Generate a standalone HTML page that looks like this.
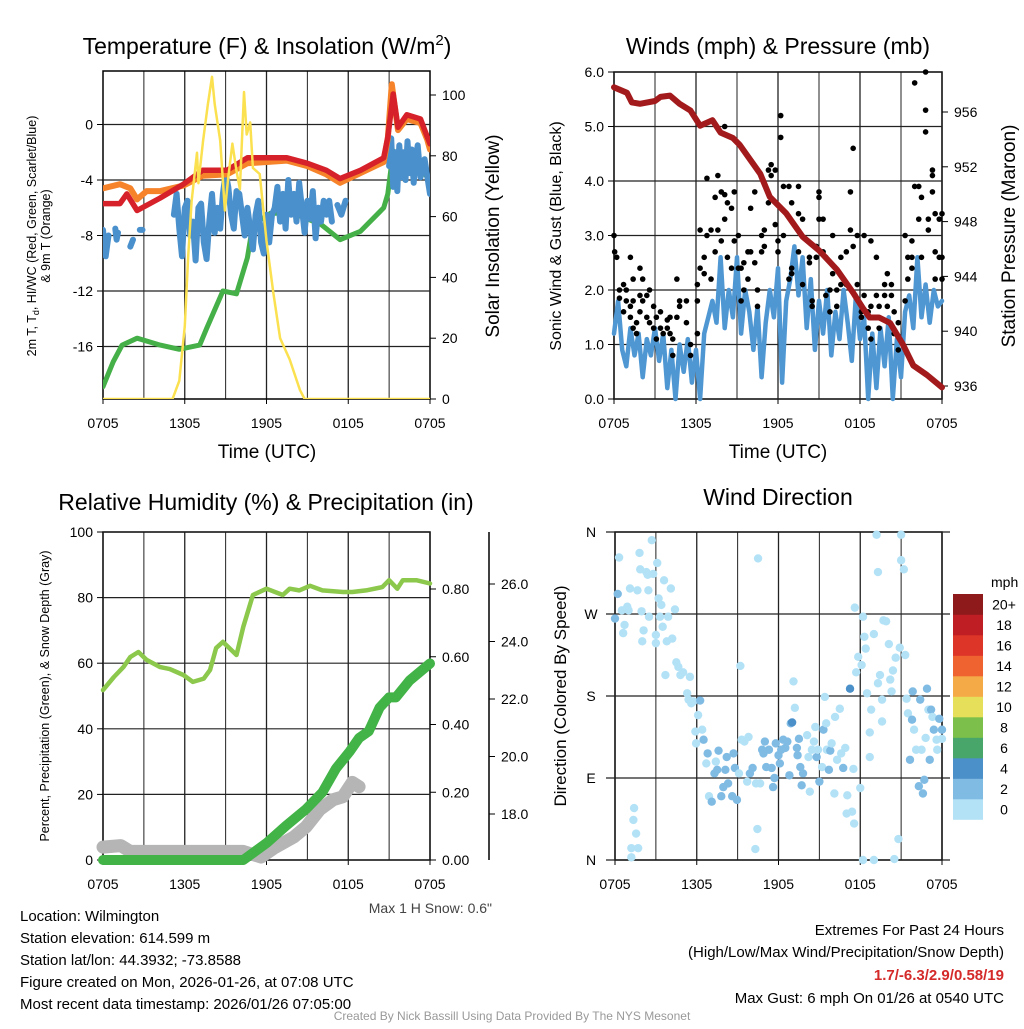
<!DOCTYPE html>
<html><head><meta charset="utf-8"><style>
html,body{margin:0;padding:0;background:#fff;}
svg text{font-family:"Liberation Sans",sans-serif;fill:#000;}
</style></head><body>
<svg id="chart" width="1024" height="1024" viewBox="0 0 1024 1024" xmlns="http://www.w3.org/2000/svg">
<rect x="0" y="0" width="1024" height="1024" fill="#fff"/>
<text x="267" y="54" font-size="23" text-anchor="middle">Temperature (F) &amp; Insolation (W/m<tspan dy="-9" font-size="15">2</tspan><tspan dy="9">)</tspan></text>
<text x="778" y="54" font-size="23" text-anchor="middle">Winds (mph) &amp; Pressure (mb)</text>
<text x="266" y="510" font-size="23" text-anchor="middle">Relative Humidity (%) &amp; Precipitation (in)</text>
<text x="778" y="505" font-size="23" text-anchor="middle">Wind Direction</text>
<text x="267" y="458" font-size="19" text-anchor="middle">Time (UTC)</text>
<text x="778" y="458" font-size="19" text-anchor="middle">Time (UTC)</text>
<text transform="translate(36,236) rotate(-90)" font-size="12.5" text-anchor="middle">2m T, T<tspan dy="3" font-size="9">d</tspan><tspan dy="-3">, HI/WC (Red, Green, Scarlet/Blue)</tspan></text>
<text transform="translate(50,236) rotate(-90)" font-size="12.5" text-anchor="middle">&amp; 9m T (Orange)</text>
<text transform="translate(499,236) rotate(-90)" font-size="19" text-anchor="middle">Solar Insolation (Yellow)</text>
<text transform="translate(561,236) rotate(-90)" font-size="16" text-anchor="middle">Sonic Wind &amp; Gust (Blue, Black)</text>
<text transform="translate(1015,236) rotate(-90)" font-size="19" text-anchor="middle">Station Pressure (Maroon)</text>
<text transform="translate(49,696) rotate(-90)" font-size="12.5" text-anchor="middle">Percent, Precipitation (Green), &amp; Snow Depth (Gray)</text>
<text transform="translate(566,696) rotate(-90)" font-size="17" text-anchor="middle">Direction (Colored By Speed)</text>
<text x="492" y="913" font-size="14" text-anchor="end" style="fill:#444">Max 1 H Snow: 0.6"</text>
<g font-size="15">
<text x="20" y="921">Location: Wilmington</text>
<text x="20" y="943">Station elevation: 614.599 m</text>
<text x="20" y="965">Station lat/lon: 44.3932; -73.8588</text>
<text x="20" y="987">Figure created on Mon, 2026-01-26, at 07:08 UTC</text>
<text x="20" y="1009">Most recent data timestamp: 2026/01/26 07:05:00</text>
</g>
<g font-size="15" text-anchor="end">
<text x="1004" y="935">Extremes For Past 24 Hours</text>
<text x="1004" y="957">(High/Low/Max Wind/Precipitation/Snow Depth)</text>
<text x="1004" y="980" font-weight="bold" style="fill:#d42a2a">1.7/-6.3/2.9/0.58/19</text>
<text x="1004" y="1003">Max Gust: 6 mph On 01/26 at 0540 UTC</text>
</g>
<text x="512" y="1020" font-size="12" text-anchor="middle" style="fill:#999">Created By Nick Bassill Using Data Provided By The NYS Mesonet</text>
</svg>
<script>
// ---------- data ----------
const timeTicks = [0, 6, 12, 18, 24];
const timeLabels = ["0705", "1305", "1905", "0105", "0705"];
// Panel 1: temperatures (F) and solar (W/m2)
const redT = [0,1.25,1.75,2.5,4.2,5.9,7.3,9.1,10.6,12.0,13.5,15.0,16.4,17.4,18.9,20.6,20.9,21.3,21.65,22.3,23.3,23.8,24];
const redV = [-5.7,-5.7,-5.0,-6.2,-5.3,-4.3,-3.3,-3.3,-2.4,-2.4,-2.4,-2.8,-3.3,-3.9,-3.3,-2.4,-0.9,2.2,-0.2,0.7,0.4,-0.9,-1.4];
const orangeT = [0,1.25,2.0,2.5,3.2,4.2,5.9,7.3,9.1,10.6,12.0,13.5,15.0,16.4,17.4,18.9,20.6,20.9,21.2,21.65,22.3,23.3,23.8,24];
const orangeV = [-4.6,-4.3,-4.6,-5.4,-4.8,-4.8,-4.4,-3.7,-3.6,-2.8,-2.7,-2.6,-3.0,-3.6,-4.2,-3.5,-2.7,-1.0,2.9,-0.4,0.4,0.1,-1.1,-1.8];
const greenT = [0,0.75,1.4,2.5,4.2,5.6,7.1,7.6,8.8,9.8,10.6,11.0,12.3,14.0,16.0,17.4,18.9,20.6,20.9,21.3,21.65,23.0,23.8,24];
const greenV = [-18.9,-17.1,-15.9,-15.4,-15.9,-16.2,-15.9,-14.7,-12.0,-12.2,-9.6,-7.2,-6.4,-6.4,-7.2,-8.3,-7.7,-6.0,-5.0,-1.9,-3.8,-2.8,-3.8,-4.9];
const blueT = [0,0.2,0.4,null,0.9,1.0,1.1,null,2.0,2.2,null,2.7,2.9,null,
 5.2,5.4,5.6,5.8,6.0,6.2,6.4,6.6,6.8,7.0,7.2,7.4,7.6,7.8,8.0,8.2,8.4,8.6,8.8,9.0,9.2,9.4,9.6,9.8,10.0,10.2,10.4,10.6,10.8,11.0,11.2,11.4,11.6,11.8,12.0,12.2,12.4,
 12.6,12.8,13.0,13.2,13.4,13.6,13.8,14.0,14.2,14.4,14.6,14.8,15.0,15.2,15.4,15.6,15.8,16.0,16.2,16.4,16.6,16.8,null,
 17.2,17.5,17.8,null,
 21.0,21.15,21.3,21.45,21.6,21.75,21.9,22.05,22.2,22.35,22.5,22.65,22.8,22.95,23.1,23.3,23.6,24];
const blueV = [-7.6,-9.5,-8.0,null,-7.5,-8.3,-7.8,null,-8.8,-8.3,null,-7.6,-7.6,null,
 -6.5,-5,-7.5,-9.5,-6,-5.5,-8,-7,-9.8,-6,-5.7,-8.5,-9.7,-7,-5,-7.8,-6,-7.5,-5,-3.5,-4.5,-6.5,-7.5,-4.8,-5,-6.5,-8,-6,-7.5,-9,-6.5,-5.5,-8.5,-9.3,-6.5,-8.5,-6.5,
 -6,-4.5,-7,-5,-7.5,-4,-6.5,-5,-7,-4.2,-6,-7.8,-5.5,-6.8,-4.8,-8.2,-6,-7,-5.5,-6.5,-5.5,-7,null,
 -5.8,-6.5,-5.5,null,
 -3,-1,-4.5,-2,-4.8,-1.5,-3.8,-2,-4,-1.2,-3.5,-1.8,-4.2,-2.5,-1.5,-3.8,-2.5,-5];
const solarT = [0,5.1,5.6,6.0,6.25,6.5,6.9,7.0,7.35,7.7,8.0,8.2,8.6,8.95,9.2,9.5,9.8,10.05,10.35,10.55,10.8,11.0,11.5,12.0,12.5,13.0,13.7,14.45,14.8,24];
const solarV = [0,0,6,24,47,65,81,71,85,97,106,97,85,62,73,84,75,69,101,87,91,76,74,52,35,20,13,3,0,0];
const tempTicks = [0,-4,-8,-12,-16];
const solarTicks = [0,20,40,60,80,100];
// Panel 2: wind (mph), gusts, pressure (mb)
const windV = [1.2,1.8,0.9,0.6,1.3,0.8,1.2,0.4,1.1,0.8,1.3,0.7,1.2,0.2,0.9,0.0,1.0,0.5,1.1,0.3,0.9,0.0,1.2,1.5,1.8,1.4,2.6,1.3,2.0,1.5,2.6,1.2,2.0,1.6,0.9,1.7,0.4,1.4,2.0,1.5,2.4,0.3,1.8,2.2,2.8,1.9,2.6,1.3,2.2,0.9,1.8,1.2,2.0,0.8,1.6,1.1,2.0,1.4,0.7,1.9,1.1,1.5,0.0,1.2,0.2,1.3,0.6,1.5,0.0,1.1,0.4,1.6,1.9,1.3,2.6,1.5,2.1,1.4,2.0,1.7,1.8];
const gustT = [0,0.05,0.2,0.4,0.4,0.7,0.7,0.9,0.9,1.2,1.2,1.2,1.4,1.4,1.4,1.65,1.65,1.9,1.9,1.9,2.1,2.1,2.4,2.4,2.6,2.6,2.9,2.9,3.1,3.1,3.4,3.4,3.6,3.9,3.9,4.1,4.1,4.3,4.3,4.6,4.6,4.8,4.8,5.3,5.3,5.6,5.6,6.1,6.1,6.1,6.3,6.3,6.6,6.6,6.8,6.8,7.1,7.1,7.4,7.4,7.6,7.6,7.85,7.85,8.1,8.1,8.1,8.3,8.3,8.6,8.6,8.8,8.8,9.1,9.1,9.3,9.3,9.5,9.5,9.8,9.8,10.0,10.0,10.3,10.3,10.5,10.5,10.8,10.8,11.0,11.0,11.3,11.3,11.5,11.5,11.8,11.8,12.0,12.0,12.2,12.2,12.4,12.4,12.8,12.8,13.0,13.0,13.0,13.5,13.5,13.5,13.8,13.8,14.3,14.3,14.5,14.5,14.8,14.8,15.0,15.0,15.0,15.3,15.3,15.5,15.5,15.8,15.8,16.0,16.0,16.3,16.3,16.6,16.6,17.0,17.0,17.3,17.3,17.5,17.5,17.8,17.8,18.1,18.1,18.3,18.3,18.6,18.6,18.8,18.8,18.8,19.2,19.2,19.4,19.4,19.8,19.8,20.0,20.0,20.3,20.3,20.5,20.5,20.8,20.8,21.3,21.3,21.5,21.5,21.8,21.8,21.8,22.0,22.0,22.3,22.3,22.5,22.5,22.8,22.8,22.8,23.0,23.0,23.3,23.3,23.3,23.5,23.5,23.5,23.8,23.8,24,24,24];
const gustV = [3.0,2.7,2.6,2.0,1.85,2.1,1.6,2.0,1.8,2.6,1.7,1.5,2.2,1.8,1.3,1.4,1.2,2.4,1.9,1.6,2.2,1.8,1.9,1.5,2.0,1.4,1.7,1.3,1.5,1.1,1.6,1.3,1.2,1.45,1.3,1.5,1.2,1.1,0.8,2.2,1.5,1.8,1.7,1.8,1.4,1.0,0.8,2.1,1.8,1.2,2.4,3.1,2.6,2.3,4.05,3.0,3.1,2.2,3.7,2.7,4.1,3.1,3.8,2.9,5.0,3.75,3.3,3.6,2.6,3.5,2.4,3.8,2.9,3.0,2.4,1.8,2.4,2.5,2.0,2.2,2.7,3.5,2.7,3.8,2.5,2.0,1.7,2.7,3.0,3.1,2.8,4.2,3.6,4.3,4.1,4.2,3.2,2.9,2.7,4.8,5.2,3.9,3.0,3.9,2.2,3.6,2.3,2.4,3.4,3.9,2.7,3.3,2.1,2.6,2.5,1.8,1.7,2.8,2.6,3.7,3.3,3.8,3.3,2.7,2.6,1.9,2.0,1.6,3.0,2.3,1.7,2.0,2.1,2.6,2.7,2.1,3.8,3.1,4.6,2.8,2.1,3.0,1.6,1.5,1.9,3.0,1.6,1.3,1.7,2.9,1.1,1.9,2.6,1.7,1.3,2.1,1.9,1.7,2.3,1.9,2.1,1.6,1.2,1.4,0.9,1.8,3.0,2.2,2.6,2.6,2.4,2.9,3.9,5.8,3.3,3.9,3.7,2.6,4.9,5.3,6.0,3.3,3.1,3.8,4.2,4.1,2.2,2.7,3.4,2.6,3.3,2.6,3.4,2.2];
const presT = [0,0.95,1.3,1.9,3.0,3.4,4.1,4.8,5.6,6.3,7.2,7.8,8.7,9.2,10.7,11.4,12.6,13.8,15.0,16.3,17.5,18.2,18.7,19.4,20.2,21.1,21.9,22.9,24];
const presV = [957.8,957.4,956.7,956.6,956.8,957.1,957.2,956.6,956.1,955.0,955.4,954.5,954.1,953.6,951.5,949.8,948.6,946.9,945.9,944.5,942.8,941.7,941.0,941.0,940.6,939.1,937.5,936.8,935.9];
const windTicks = [0,1,2,3,4,5,6];
const presTicks = [936,940,944,948,952,956];
// Panel 3: RH (%), precip (in), snow depth (in)
const rhT = [0,0.8,1.5,2.0,2.6,3.2,4.2,4.9,5.9,6.6,7.4,7.85,8.3,8.8,9.8,10.3,11.0,12.0,13.2,13.7,14.4,15.2,16.1,17.6,18.3,19.3,20.5,21.0,21.6,22.0,23.0,24];
const rhV = [51.8,55.8,58.8,61.9,63.4,61,58.8,58.2,56.4,54.3,55.3,57.9,64.6,66.5,62.5,71.1,80.8,82.7,80.8,82.7,82.2,83.6,82.2,81.7,81.7,82.2,83.2,85.3,82.7,85.3,85.3,84.3];
const precipT = [0,10.3,12.0,13.4,14.9,16.1,17.1,18.1,18.8,19.5,20.3,21.0,21.5,22.5,24];
const precipV = [0,0,0.05,0.10,0.15,0.20,0.27,0.32,0.36,0.38,0.45,0.48,0.48,0.53,0.58];
const snowT = [0,1.3,2.0,10.3,11.6,12.5,14.0,14.9,15.9,16.9,17.6,18.3,18.8];
const snowV = [16.85,16.9,16.7,16.7,16.5,16.8,17.2,17.55,18.15,18.5,18.6,19.1,18.95];
const rhTicks = [0,20,40,60,80,100];
const precipTicks = [0,0.2,0.4,0.6,0.8];
const snowTicks = [18,20,22,24,26];
// Panel 4: wind direction (deg) with speed (mph)
const dirT = [0.0,0.2,0.3,0.5,0.6,0.7,0.9,1.0,1.1,1.2,1.4,1.35,1.55,1.7,1.2,1.8,1.85,1.65,1.95,2.1,2.0,2.3,2.4,2.45,2.5,2.7,2.8,3.0,3.0,3.1,3.2,3.3,3.4,3.5,3.6,3.7,3.8,3.9,4.1,4.2,4.4,4.5,4.65,4.8,5.0,5.3,5.4,5.5,5.6,5.75,5.9,5.95,6.1,6.25,6.4,6.5,6.7,6.8,6.9,7.1,7.3,7.4,7.5,7.6,7.8,7.95,8.1,8.2,8.3,8.6,8.7,8.8,8.95,9.1,9.2,9.3,9.5,9.7,9.8,9.9,10.1,10.35,10.45,10.5,10.65,10.3,10.8,10.9,11.0,11.1,11.3,11.5,11.6,11.7,11.8,12.0,12.1,12.2,12.35,12.5,12.65,12.8,12.9,13.0,13.1,13.2,13.35,13.4,13.5,13.6,13.7,13.8,14.1,14.2,14.3,14.45,14.6,14.7,14.8,14.9,15.0,15.2,15.3,15.4,15.5,15.55,15.7,15.8,15.9,16.1,16.15,16.3,16.5,16.6,16.75,16.9,17.0,17.05,17.25,17.4,17.5,17.55,17.6,17.7,17.85,18.0,18.1,18.2,18.2,18.3,18.4,18.5,18.7,18.7,18.8,19.0,19.0,19.2,19.3,19.3,19.45,19.6,19.6,19.7,19.9,20.1,20.2,20.3,20.4,20.5,20.6,20.8,20.9,21.0,21.0,21.2,21.3,21.4,21.5,21.65,21.8,21.85,21.95,22.1,22.3,22.4,22.5,22.6,22.7,22.8,22.9,23.0,23.1,23.2,23.3,23.4,23.6,23.65,23.8,24.0,24.0];
const dirDeg = [265,292,332,274,249,258,278,274,298,13,57,44,29,13,3,337,319,296,273,252,240,316,313,296,267,351,314,247,238,326,287,267,280,256,307,203,240,267,298,243,275,217,212,203,206,183,176,201,172,174,141,128,159,175,143,132,106,117,70,64,95,108,99,120,70,80,99,113,84,70,117,101,66,95,213,132,130,86,135,95,101,84,34,331,84,12,121,117,130,102,121,101,80,90,128,115,106,121,132,123,130,93,150,151,196,167,123,115,133,102,82,95,137,113,75,121,130,146,113,121,86,102,143,179,150,121,99,120,128,73,157,110,166,117,101,123,51,71,188,53,100,40,277,206,223,79,214,0,267,245,232,183,113,140,165,248,0,357,316,194,203,152,176,263,262,237,198,185,208,1,222,23,233,357,329,319,225,177,161,110,154,185,143,121,81,176,121,73,88,134,188,165,110,165,157,143,132,121,155,143,133];
const dirSpd = [3,3,1,1,1,1,1,1,1,1,1,1,1,1,1,1,1,1,1,1,1,1,1,1,1,1,1,1,1,1,1,1,1,1,1,1,1,1,1,1,1,1,1,1,1,1,1,1,1,1,1,1,1,3,1,3,1,3,1,3,3,1,3,3,3,3,3,3,3,3,3,3,3,1,1,1,1,1,1,3,3,1,1,1,1,1,3,3,3,3,3,3,3,3,3,3,3,3,3,3,3,3,3,4.5,1,1,3,3,3,3,3,3,1,1,1,1,1,1,3,1,3,1,3,1,1,1,3,3,1,1,1,1,1,1,3,1,1,1,4.5,1,1,1,1,1,1,1,1,1,1,1,1,1,1,1,1,1,1,1,1,1,1,1,1,1,1,1,1,1,1,1,1,1,1,1,1,1,1,1,1,3,3,3,1,1,3,3,1,3,3,1,3,1,3,3,1,3,1,1,3,3,1,3,1];
const dirTicks = [0,90,180,270,360];
const dirLabels = ["N","E","S","W","N"];
const speedBins = ["0","2","4","6","8","10","12","14","16","18","20+"];
const speedColors = ["#b3e2f7","#80bbe4","#4b90c9","#49a66b","#7cc04b","#e6df5a","#f5aa48","#ef6331","#dd3629","#be1e24","#8f1a1b"];

// ---------- helpers ----------
const NS = "http://www.w3.org/2000/svg";
const svg = document.getElementById("chart");
function el(tag, parent) { const e = document.createElementNS(NS, tag); (parent || svg).appendChild(e); return e; }
function lin(d0, d1, r0, r1) { return v => r0 + (v - d0) / (d1 - d0) * (r1 - r0); }
function pathFrom(xs, ys, sx, sy) {
  let d = "", pen = false;
  for (let i = 0; i < xs.length; i++) {
    if (xs[i] === null || ys[i] === null) { pen = false; continue; }
    d += (pen ? "L" : "M") + sx(xs[i]).toFixed(1) + "," + sy(ys[i]).toFixed(1);
    pen = true;
  }
  return d;
}
function line(g, x1, y1, x2, y2, stroke, w) {
  const l = el("line", g);
  l.setAttribute("x1", x1); l.setAttribute("y1", y1); l.setAttribute("x2", x2); l.setAttribute("y2", y2);
  l.setAttribute("stroke", stroke); l.setAttribute("stroke-width", w);
  return l;
}
function txt(g, x, y, s, anchor, size) {
  const t = el("text", g);
  t.setAttribute("x", x); t.setAttribute("y", y); t.setAttribute("text-anchor", anchor); t.setAttribute("font-size", size);
  t.textContent = s; return t;
}
function frame(name, x0, x1, y0, y1, xs) {
  const g = el("g");
  
  
  for (let h = 3; h < 24; h += 3) {
    const gl = line(g, xs(h), y0, xs(h), y1, "#222", h % 6 === 0 ? 1.3 : 1);
    
    
  }
  timeTicks.forEach((t, i) => {
    const tk = line(g, xs(t), y1, xs(t), y1 + 5, "#000", 1);
    
    
    const lb = txt(g, xs(t), y1 + 29, timeLabels[i], "middle", 14);
    
    
  });
  const r = el("rect", g);
  r.setAttribute("x", x0); r.setAttribute("y", y0); r.setAttribute("width", x1 - x0); r.setAttribute("height", y1 - y0);
  r.setAttribute("fill", "none"); r.setAttribute("stroke", "#000"); r.setAttribute("stroke-width", 1.5);
  
  
  return g;
}
function yAxis(g, ticks, labels, sy, x, side, grid, x0, x1, fmt) {
  ticks.forEach((v, i) => {
    const y = sy(v);
    if (grid) {
      const gl = line(g, x0, y, x1, y, "#222", 1.2);
      
      
    }
    const tk = line(g, x, y, x + (side === "left" ? -6 : 6), y, "#000", 1);
    
    
    const s = labels ? labels[i] : fmt(v);
    const lb = txt(g, side === "left" ? x - 10 : x + 12, y + 5, s, side === "left" ? "end" : "start", 14);
    
    
  });
}
function series(g, xs, ys, sx, sy, color, w) {
  const p = el("path", g);
  p.setAttribute("d", pathFrom(xs, ys, sx, sy));
  p.setAttribute("fill", "none"); p.setAttribute("stroke", color); p.setAttribute("stroke-width", w);
  p.setAttribute("stroke-linejoin", "round"); p.setAttribute("stroke-linecap", "round");
  return p;
}

// ---------- Panel 1 ----------
{
  const x0 = 103, x1 = 430, y0 = 71, y1 = 399;
  const sx = lin(0, 24, x0, x1), sy = lin(0, -16, 124.5, 346.5), ss = lin(0, 100, 399, 95);
  const g = frame("temperature", x0, x1, y0, y1, sx);
  yAxis(g, tempTicks, null, sy, x0, "left", true, x0, x1, v => String(v));
  yAxis(g, solarTicks, null, ss, x1, "right", false, 0, 0, v => String(v));
  const sg = el("g"); sg.setAttribute("clip-path", "url(#c1)");
  const cp = el("clipPath"); cp.setAttribute("id", "c1");
  const cr = el("rect", cp); cr.setAttribute("x", x0); cr.setAttribute("y", y0); cr.setAttribute("width", x1 - x0); cr.setAttribute("height", y1 - y0);
  const gr = series(sg, greenT, greenV, sx, sy, "#44b047", 5);
  
  
  const bl = series(sg, blueT, blueV, sx, sy, "#4a90cc", 6);
  
  
  const or = series(sg, orangeT, orangeV, sx, sy, "#f6832a", 6);
  
  
  const rd = series(sg, redT, redV, sx, sy, "#d6212a", 5.5);
  
  
  const so = series(sg, solarT, solarV, sx, ss, "#fbe150", 2.5);
  
  
}
// ---------- Panel 2 ----------
{
  const x0 = 614, x1 = 942, y0 = 72, y1 = 399;
  const sx = lin(0, 24, x0, x1), sw = lin(0, 6, y1, y0), sp = lin(956, 936, 112, 386);
  const g = frame("winds", x0, x1, y0, y1, sx);
  yAxis(g, windTicks, null, sw, x0, "left", true, x0, x1, v => v.toFixed(1));
  yAxis(g, presTicks, null, sp, x1, "right", false, 0, 0, v => String(v));
  const wt = windV.map((v, i) => i * 24 / (windV.length - 1));
  const wl = series(g, wt, windV, sx, sw, "#4f97d3", 4.5);
  
  
  const gg = el("g", g);
  
  
  gustT.forEach((t, i) => {
    const c = el("circle", gg);
    c.setAttribute("cx", sx(t)); c.setAttribute("cy", sw(gustV[i])); c.setAttribute("r", 2.8); c.setAttribute("fill", "#000");
    
    
  });
  const pl = series(g, presT, presV, sx, sp, "#a31a1c", 6);
  
  
}
// ---------- Panel 3 ----------
{
  const x0 = 103, x1 = 430, y0 = 532, y1 = 860;
  const sx = lin(0, 24, x0, x1), sr = lin(0, 100, y1, y0), sp = lin(0, 0.8, 860, 589), sn = lin(18, 26, 814, 584);
  const g = frame("humidity", x0, x1, y0, y1, sx);
  yAxis(g, rhTicks, null, sr, x0, "left", true, x0, x1, v => String(v));
  yAxis(g, precipTicks, null, sp, x1, "right", false, 0, 0, v => v.toFixed(2));
  const ax = line(g, 489, 532, 489, 860, "#000", 1.5);
  
  
  yAxis(g, snowTicks, null, sn, 489, "right", false, 0, 0, v => v.toFixed(1));
  const sw = series(g, snowT, snowV, sx, sn, "#b5b5b5", 13);
  
  
  const pr = series(g, precipT, precipV, sx, sp, "#42b346", 10);
  
  
  const rh = series(g, rhT, rhV, sx, sr, "#8cc84b", 4.5);
  
  
}
// ---------- Panel 4 ----------
{
  const x0 = 615, x1 = 942, y0 = 532, y1 = 860;
  const sx = lin(0, 24, x0, x1), sd = lin(0, 360, y1, y0);
  const g = frame("wind-direction", x0, x1, y0, y1, sx);
  dirTicks.forEach((v, i) => {
    const y = sd(v);
    const gl = line(g, 606, y, 950, y, "#222", 1.2);
    
    
    const lb = txt(g, 591, y + 5, dirLabels[i], "middle", 14);
    
    
  });
  const pg = el("g", g);
  
  
  dirT.forEach((t, i) => {
    const c = el("circle", pg);
    const bin = Math.min(10, Math.floor(dirSpd[i] / 2));
    c.setAttribute("cx", sx(t)); c.setAttribute("cy", sd(dirDeg[i])); c.setAttribute("r", 4.2);
    c.setAttribute("fill", speedColors[bin]);
    
    
  });
  // colorbar
  const cb = el("g");
  
  
  const mt = txt(cb, 991, 587, "mph", "start", 14);
  
  
  const top = 594, bh = 20.5;
  speedBins.forEach((lab, i) => {
    const k = speedBins.length - 1 - i;
    const r = el("rect", cb);
    r.setAttribute("x", 953); r.setAttribute("y", top + k * bh); r.setAttribute("width", 30); r.setAttribute("height", bh + 0.3);
    r.setAttribute("fill", speedColors[i]);
    
    
    const t = txt(cb, 1004, top + k * bh + bh / 2 + 5, lab, "middle", 14);
    
    
  });
}
</script>
</body></html>
